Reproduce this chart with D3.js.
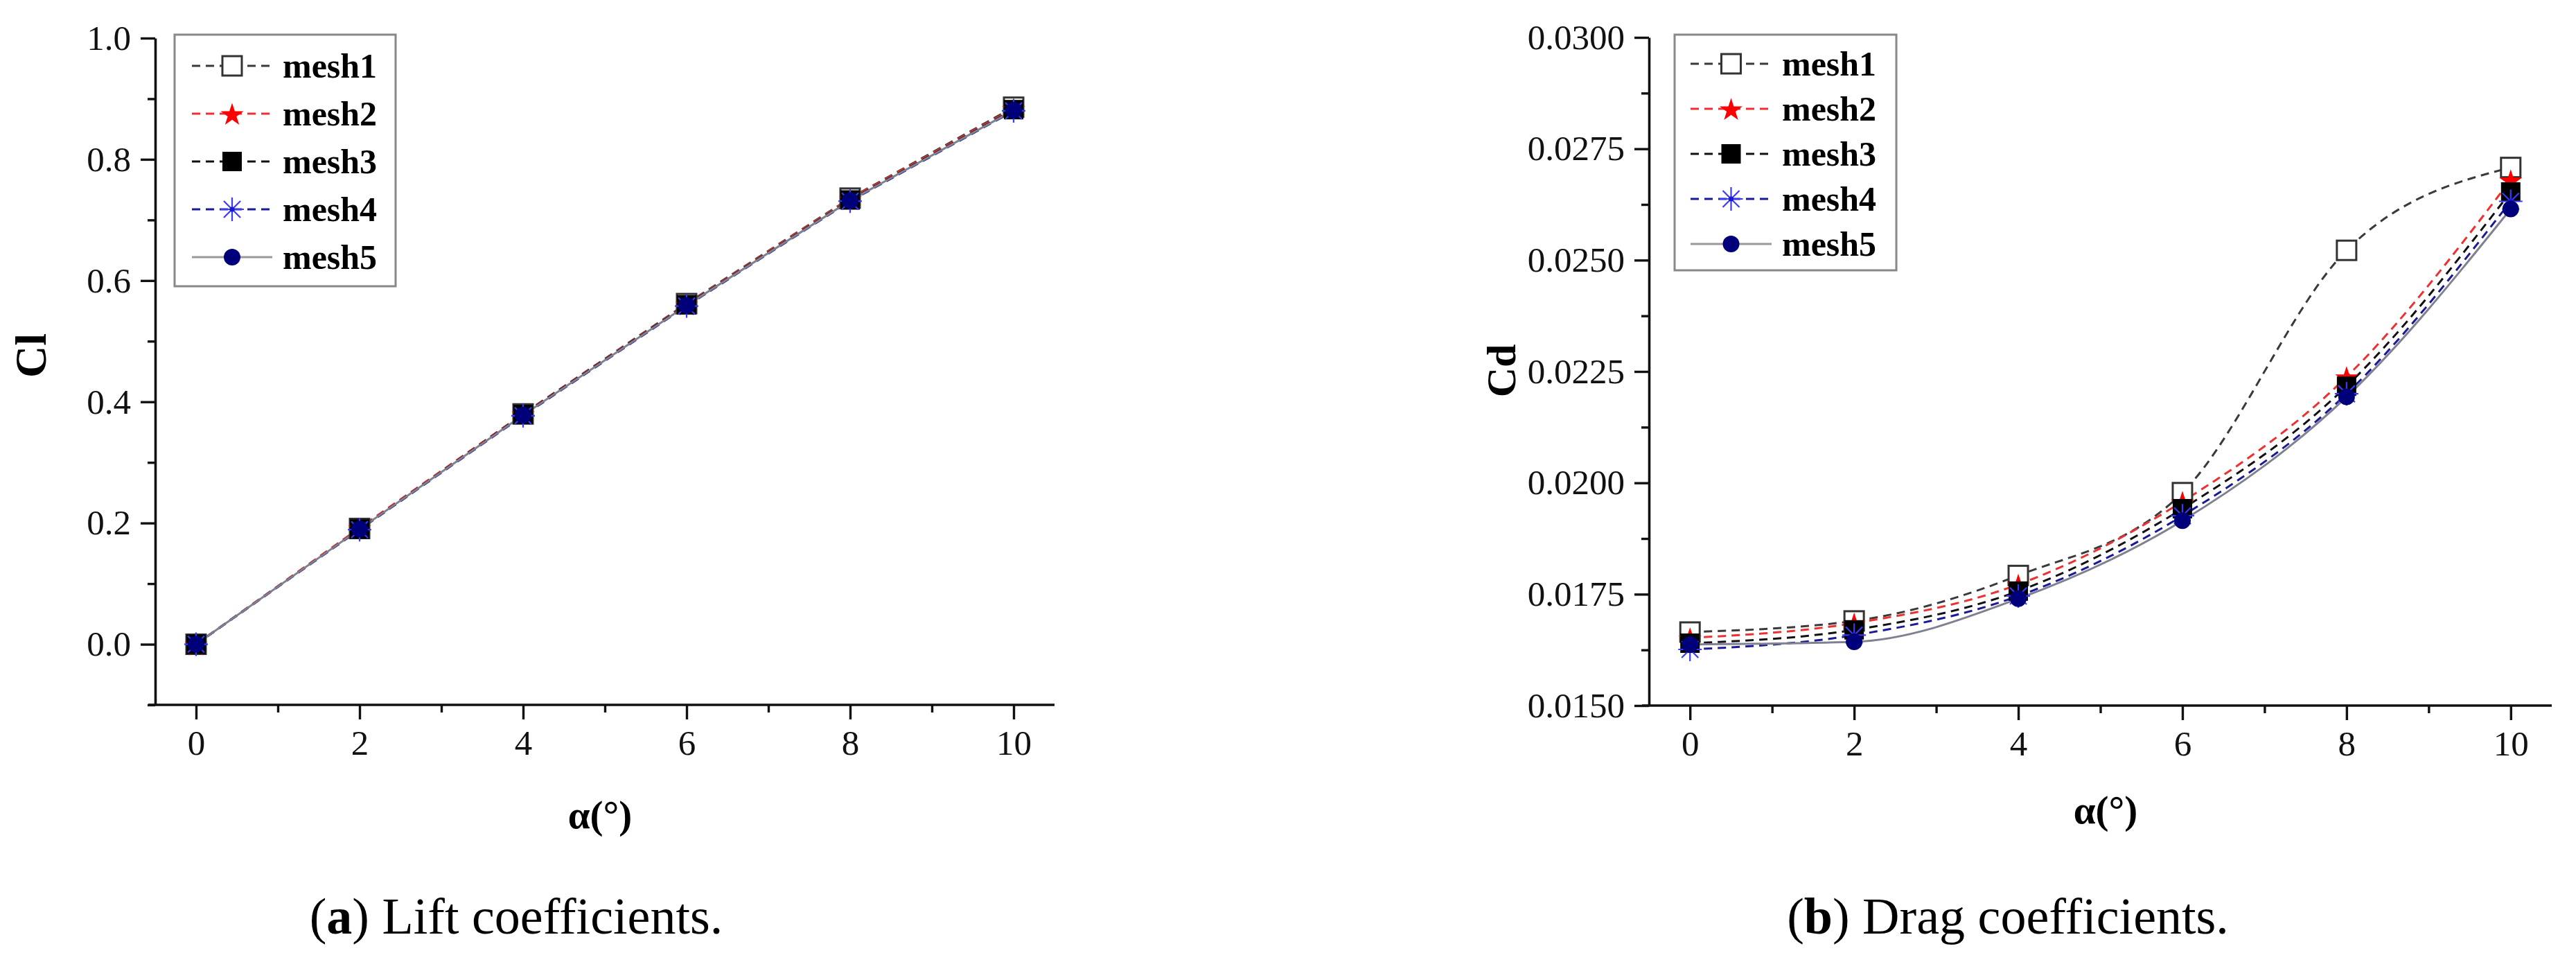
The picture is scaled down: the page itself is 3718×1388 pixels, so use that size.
<!DOCTYPE html>
<html>
<head>
<meta charset="utf-8">
<script src="https://cdn.jsdelivr.net/npm/d3@7"></script>
<style>
  body { margin: 0; background: #fff; }
  text { font-family: "Liberation Serif", "Times New Roman", serif; }
</style>
</head>
<body>
<div id="chart-area"></div>
<script>
let width = 3718,
    height = 1388;

// angle of attack
const alpha = [0, 2, 4, 6, 8, 10];
const meshNames = ["mesh1", "mesh2", "mesh3", "mesh4", "mesh5"];

// lift coefficients
const clMesh1 = [0, 0.191, 0.380, 0.562, 0.736, 0.886];
const clMesh2 = [0, 0.192, 0.380, 0.561, 0.735, 0.884];
const clMesh3 = [0, 0.190, 0.379, 0.560, 0.733, 0.882];
const clMesh4 = [0, 0.189, 0.377, 0.558, 0.731, 0.880];
const clMesh5 = [0, 0.190, 0.378, 0.559, 0.732, 0.881];

// drag coefficients
const cdMesh1 = [0.01665, 0.01690, 0.01792, 0.01978, 0.02522, 0.02708];
const cdMesh2 = [0.01652, 0.01685, 0.01772, 0.01958, 0.02238, 0.02680];
const cdMesh3 = [0.01640, 0.01670, 0.01757, 0.01942, 0.02217, 0.02653];
const cdMesh4 = [0.01626, 0.01658, 0.01746, 0.01926, 0.02200, 0.02632];
const cdMesh5 = [0.01637, 0.01643, 0.01740, 0.01915, 0.02193, 0.02615];

// ticks
const xMajor = [0, 2, 4, 6, 8, 10];
const xMinor = [1, 3, 5, 7, 9];
const clMajor = [0.0, 0.2, 0.4, 0.6, 0.8, 1.0];
const clMinor = [-0.1, 0.1, 0.3, 0.5, 0.7, 0.9];
const cdMajor = [0.0150, 0.0175, 0.0200, 0.0225, 0.0250, 0.0275, 0.0300];
const cdMinor = [0.01625, 0.01875, 0.02125, 0.02375, 0.02625, 0.02875];

// series look: line colour, dash, marker
const styles = [
  {line: "#3a3a3a", dash: "12,8", marker: "openSquare", color: "#333"},
  {line: "#ee3030", dash: "12,8", marker: "star", color: "#ff0000"},
  {line: "#111", dash: "12,8", marker: "square", color: "#000"},
  {line: "#1a1a99", dash: "12,8", marker: "asterisk", color: "#3a3aff"},
  {line: "#7f8090", dash: null, marker: "circle", color: "#00007a"}
];

const serif = '"Liberation Serif", "Times New Roman", serif';

let svg = d3.select("#chart-area").append("svg")
  .attr("width", width)
  .attr("height", height);

svg.append("rect").attr("width", width).attr("height", height).attr("fill", "#fff");

function drawMarker(g, type, color, x, y) {
  if (type == "openSquare") {
    g.append("rect").attr("x", x - 14).attr("y", y - 14).attr("width", 28).attr("height", 28)
      .attr("fill", "#fff").attr("stroke", color).attr("stroke-width", 3);
  } else if (type == "square") {
    g.append("rect").attr("x", x - 14).attr("y", y - 14).attr("width", 28).attr("height", 28)
      .attr("fill", color);
  } else if (type == "star") {
    g.append("path").attr("d", d3.symbol().type(d3.symbolStar).size(340)())
      .attr("transform", "translate(" + x + "," + (y + 2) + ")")
      .attr("fill", color);
  } else if (type == "asterisk") {
    let r = 17;
    let a = g.append("g").attr("transform", "translate(" + x + "," + y + ")");
    [0, 45, 90, 135].forEach(ang => {
      let rad = ang * Math.PI / 180;
      a.append("line")
        .attr("x1", -r * Math.cos(rad)).attr("y1", -r * Math.sin(rad))
        .attr("x2", r * Math.cos(rad)).attr("y2", r * Math.sin(rad))
        .attr("stroke", color).attr("stroke-width", 2.2);
    });
    a.append("circle").attr("r", 3.5).attr("fill", "#1a1acc");
  } else if (type == "circle") {
    g.append("circle").attr("cx", x).attr("cy", y).attr("r", 12).attr("fill", color);
  }
}

function drawPanel(p) {
  let x = d3.scaleLinear().domain([-0.5, 10.5]).range([p.left, p.right]);
  let y = d3.scaleLinear().domain(p.yDomain).range([p.bottom, p.top]);

  let g = svg.append("g");

  // series lines
  let line = d3.line()
    .x(d => x(d[0]))
    .y(d => y(d[1]))
    .curve(p.curve);

  p.series.forEach((vals, i) => {
    let s = styles[i];
    g.append("path")
      .datum(alpha.map((a, j) => [a, vals[j]]))
      .attr("d", line)
      .attr("fill", "none")
      .attr("stroke", s.line)
      .attr("stroke-width", 3)
      .attr("stroke-dasharray", s.dash);
  });

  // markers
  p.series.forEach((vals, i) => {
    let s = styles[i];
    alpha.forEach((a, j) => drawMarker(g, s.marker, s.color, x(a), y(vals[j])));
  });

  // axes
  let xAxis = g.append("g").attr("transform", "translate(0," + p.bottom + ")")
    .call(d3.axisBottom(x).tickValues(xMajor).tickSize(21).tickSizeOuter(0).tickPadding(15));
  g.append("g").attr("transform", "translate(0," + p.bottom + ")")
    .call(d3.axisBottom(x).tickValues(xMinor).tickSize(11).tickSizeOuter(0).tickFormat(""))
    .select(".domain").remove();
  xAxis.select(".domain").attr("d", "M" + (p.left - 10) + ",0H" + p.right);

  let yAxis = g.append("g").attr("transform", "translate(" + p.left + ",0)")
    .call(d3.axisLeft(y).tickValues(p.yMajor).tickSize(21).tickSizeOuter(0).tickPadding(14)
      .tickFormat(d3.format(p.fmt)));
  g.append("g").attr("transform", "translate(" + p.left + ",0)")
    .call(d3.axisLeft(y).tickValues(p.yMinor).tickSize(11).tickSizeOuter(0).tickFormat(""))
    .select(".domain").remove();

  g.selectAll(".domain").attr("stroke", "#111").attr("stroke-width", 3.6);
  g.selectAll(".tick line").attr("stroke", "#111").attr("stroke-width", 3.4);
  g.selectAll(".tick text")
    .style("font-family", serif)
    .attr("font-size", p.tickFont)
    .attr("fill", "#111");

  // axis titles
  g.append("text")
    .attr("transform", "translate(" + p.yTitleX + "," + p.yTitleY + ") rotate(-90)")
    .attr("text-anchor", "middle")
    .attr("dy", "0.35em")
    .style("font-family", serif)
    .attr("font-weight", "bold")
    .attr("font-size", p.yTitleFont)
    .text(p.yTitle);

  g.append("text")
    .attr("x", p.xTitleX).attr("y", p.xTitleY)
    .attr("text-anchor", "middle")
    .attr("dy", "0.35em")
    .style("font-family", serif)
    .attr("font-weight", "bold")
    .attr("font-size", 57)
    .text("α(°)");

  // legend
  let lg = p.legend;
  g.append("rect")
    .attr("x", lg.x).attr("y", lg.y).attr("width", lg.w).attr("height", lg.h)
    .attr("fill", "#fff").attr("stroke", "#888").attr("stroke-width", 3);

  meshNames.forEach((name, i) => {
    let s = styles[i];
    let ry = lg.row0 + i * lg.step;
    g.append("line")
      .attr("x1", lg.lineX1).attr("x2", lg.lineX2).attr("y1", ry).attr("y2", ry)
      .attr("stroke", i == 4 ? "#999" : s.line)
      .attr("stroke-width", 3)
      .attr("stroke-dasharray", s.dash);
    drawMarker(g, s.marker, s.color, (lg.lineX1 + lg.lineX2) / 2, ry);
    g.append("text")
      .attr("x", lg.textX).attr("y", ry)
      .attr("dy", "0.33em")
      .style("font-family", serif)
      .attr("font-weight", "bold")
      .attr("font-size", 50)
      .text(name);
  });

  // caption
  let cap = g.append("text")
    .attr("x", p.capX).attr("y", 1321)
    .attr("dy", "0.35em")
    .attr("text-anchor", "middle")
    .style("font-family", serif)
    .attr("font-size", 74);
  cap.append("tspan").text("(");
  cap.append("tspan").attr("font-weight", "bold").text(p.capLetter);
  cap.append("tspan").text(") " + p.capText);
}

// (a) Lift
drawPanel({
  left: 224, right: 1522, top: 55, bottom: 1017,
  yDomain: [-0.1, 1.0], yMajor: clMajor, yMinor: clMinor, fmt: ".1f",
  tickFont: 51,
  series: [clMesh1, clMesh2, clMesh3, clMesh4, clMesh5],
  curve: d3.curveLinear,
  yTitle: "Cl", yTitleX: 44, yTitleY: 513, yTitleFont: 64,
  xTitleX: 866, xTitleY: 1175,
  legend: {x: 252, y: 50, w: 319, h: 363, row0: 95, step: 69, lineX1: 277, lineX2: 393, textX: 408},
  capX: 745, capLetter: "a", capText: "Lift coefficients."
});

// (b) Drag
drawPanel({
  left: 2380, right: 3683, top: 54, bottom: 1018,
  yDomain: [0.0150, 0.0300], yMajor: cdMajor, yMinor: cdMinor, fmt: ".4f",
  tickFont: 51,
  series: [cdMesh1, cdMesh2, cdMesh3, cdMesh4, cdMesh5],
  curve: d3.curveMonotoneX,
  yTitle: "Cd", yTitleX: 2166, yTitleY: 535, yTitleFont: 60,
  xTitleX: 3039, xTitleY: 1168,
  legend: {x: 2417, y: 50, w: 320, h: 340, row0: 92, step: 65, lineX1: 2440, lineX2: 2557, textX: 2572},
  capX: 2898, capLetter: "b", capText: "Drag coefficients."
});
</script>
</body>
</html>
